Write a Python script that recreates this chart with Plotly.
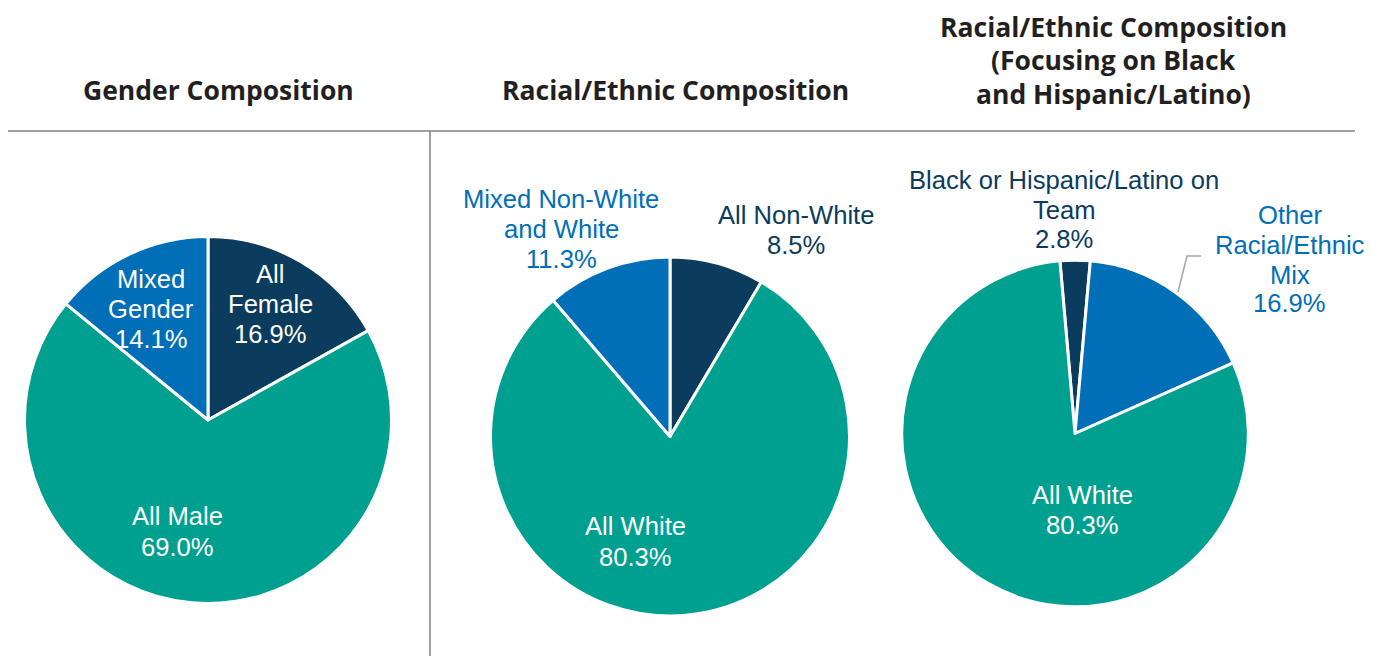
import plotly.graph_objects as go

W, H = 1380, 656
OFF = 8  # page body margin

# ---- data ----
gender_labels = ["All Female", "All Male", "Mixed Gender"]
gender_values = [16.9, 69.0, 14.1]
gender_text = [["All", "Female"], ["All Male"], ["Mixed", "Gender"]]

race_labels = ["All Non-White", "All White", "Mixed Non-White and White"]
race_values = [8.5, 80.3, 11.3]
race_text = [["All Non-White"], ["All White"], ["Mixed Non-White", "and White"]]

bh_labels = ["Black or Hispanic/Latino on Team", "Other Racial/Ethnic Mix", "All White"]
bh_values = [2.8, 16.9, 80.3]
bh_text = [["Black or Hispanic/Latino on", "Team"], ["Other", "Racial/Ethnic", "Mix"], ["All White"]]

titles = [["Gender Composition"], ["Racial/Ethnic Composition"],
          ["Racial/Ethnic Composition", "(Focusing on Black", "and Hispanic/Latino)"]]

NAVY = "#0b3c5d"
TEAL = "#00a091"
BLUE = "#006fb8"
TITLE_C = "#231f20"
GRID_C = "#808080"

gender_colors = [NAVY, TEAL, BLUE]
race_colors = [NAVY, TEAL, BLUE]
bh_colors = [NAVY, BLUE, TEAL]


def px(x, y):
    return (x - OFF) / W, 1 - (y - OFF) / H


def px_domain(cx, cy, r):
    xa, ya = px(cx - r, cy + r)
    xb, yb = px(cx + r, cy - r)
    return dict(x=[xa, xb], y=[ya, yb])


fig = go.Figure()
pies = [
    (gender_labels, gender_values, gender_colors, (208, 420, 183.5), 0),
    (race_labels, race_values, race_colors, (670, 436.5, 179.5), 0),
    (bh_labels, bh_values, bh_colors, (1075, 433.5, 173.3), -5),
]
for labels, values, colors, (cx, cy, r), rot in pies:
    fig.add_trace(go.Pie(
        labels=labels, values=values, sort=False, direction="clockwise",
        rotation=rot, textinfo="none", hoverinfo="label+percent",
        marker=dict(colors=colors, line=dict(color="white", width=3)),
        domain=px_domain(cx, cy, r), showlegend=False,
    ))

LABEL_FONT = "Liberation Sans, Arial, sans-serif"
TITLE_FONT = "Open Sans, sans-serif"
annotations = []


def add_lines(lines, x, ys, color, family, size, bold=False):
    for line, y in zip(lines, ys):
        xx, yy = px(x, y)
        annotations.append(dict(
            text=f"<b>{line}</b>" if bold else line, x=xx, y=yy,
            xref="paper", yref="paper", showarrow=False,
            xanchor="center", yanchor="middle", align="center",
            font=dict(family=family, size=size, color=color)))


def add_label(text_lines, value, x, ys, color):
    add_lines(text_lines + [f"{value:.1f}%"], x, ys, color, LABEL_FONT, 25.6)


# gender labels
add_label(gender_text[0], gender_values[0], 270, [274, 304, 334], "white")
add_label(gender_text[1], gender_values[1], 177, [516, 547], "white")
add_label(gender_text[2], gender_values[2], 151, [279, 309, 339], "white")
# race labels
add_label(race_text[0], race_values[0], 796, [215, 245], NAVY)
add_label(race_text[1], race_values[1], 635, [526, 557], "white")
add_label(race_text[2], race_values[2], 561, [198.5, 228.5, 258.5], BLUE)
# black/hispanic labels
add_label(bh_text[0], bh_values[0], 1064, [179.5, 210, 239], NAVY)
add_label(bh_text[1], bh_values[1], 1289.5, [215, 245, 275, 303], BLUE)
add_label(bh_text[2], bh_values[2], 1082, [495, 525], "white")

# titles
add_lines(titles[0], 218, [90], TITLE_C, TITLE_FONT, 26.5, bold=True)
add_lines(titles[1], 675, [90], TITLE_C, TITLE_FONT, 26.5, bold=True)
add_lines(titles[2], 1113.5, [26.5, 60, 93.5], TITLE_C, TITLE_FONT, 26.5, bold=True)

shapes = []
x0, y0 = px(8, 131)
x1, _ = px(1355, 131)
shapes.append(dict(type="line", xref="paper", yref="paper", x0=x0, y0=y0, x1=x1, y1=y0,
                   line=dict(color=GRID_C, width=1.5)))
vx, vy0 = px(430, 131)
_, vy1 = px(430, 660)
shapes.append(dict(type="line", xref="paper", yref="paper", x0=vx, y0=vy0, x1=vx, y1=vy1,
                   line=dict(color=GRID_C, width=1.5)))
# leader line for "Other Racial/Ethnic Mix"
pts = [px(1178, 292), px(1187, 256), px(1201, 256)]
path = "M " + " L ".join(f"{a},{b}" for a, b in pts)
shapes.append(dict(type="path", xref="paper", yref="paper", path=path,
                   line=dict(color="#a6a6a6", width=1.5)))

fig.update_layout(
    width=W, height=H, margin=dict(l=0, r=0, t=0, b=0),
    paper_bgcolor="white", plot_bgcolor="white",
    annotations=annotations, shapes=shapes,
)
fig.write_html("out.html")
